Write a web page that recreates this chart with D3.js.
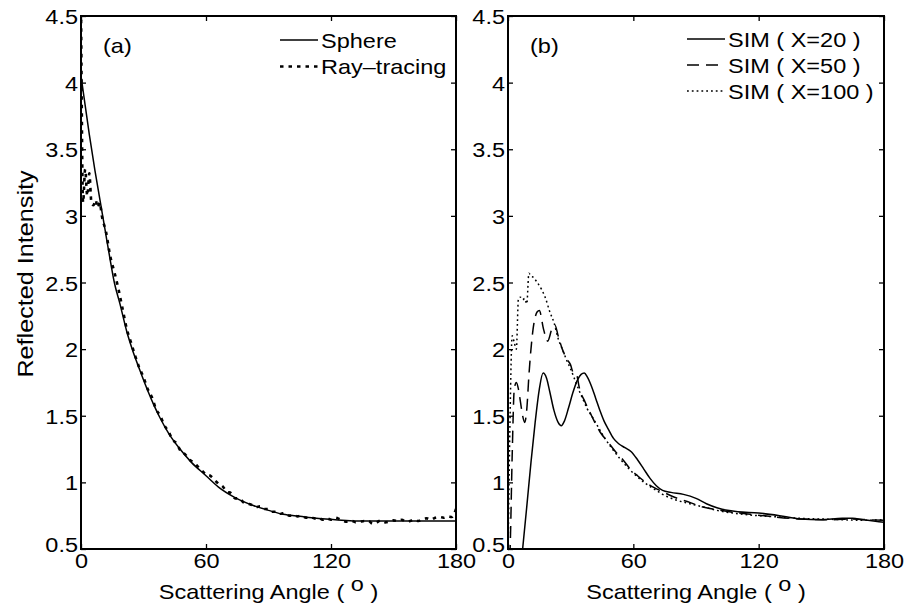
<!DOCTYPE html>
<html><head><meta charset="utf-8">
<script src="https://cdn.jsdelivr.net/npm/d3@7"></script>
<style>
body{margin:0;background:#fff;}
text{font-family:"Liberation Sans",Arial,Helvetica,sans-serif;fill:#000;}
</style></head>
<body><svg id="c" width="907" height="612"></svg>
<script>
// ---------- data ----------
const xTicks = [0, 60, 120, 180];
const yTicks = [0.5, 1, 1.5, 2, 2.5, 3, 3.5, 4, 4.5];
const yTickLabels = ["0.5","1","1.5","2","2.5","3","3.5","4","4.5"];

// panel (a)
const sphereAngle = [0,2,4,6.7,9.1,11.5,13.9,16,18.7,22,25,28.3,32,35,37.9,42,47.5,53,60,66,73.5,83,90,97,105,113,122,132,150,180];
const sphereValue = [4.05,3.83,3.61,3.34,3.12,2.9,2.68,2.5,2.34,2.13,1.98,1.84,1.69,1.58,1.485,1.37,1.25,1.15,1.05,0.965,0.89,0.825,0.79,0.76,0.745,0.73,0.72,0.71,0.71,0.71];

const rayAngle = [0,1,2,3,4,5,6,7,8,9,10,12,14,16,18,20,22,24,26,28,30,32,34,36,38,40,42,44,46,48,50,52,54,56,58,60,62,64,66,68,70,72,74,76,78,80,82,84,86,88,90,92,94,96,98,100,102,104,106,108,110,112,114,116,118,120,122,124,126,128,130,132,134,136,138,140,142,144,146,148,150,152,154,156,158,160,162,164,166,168,170,172,174,176,178,180];
const rayValue = [4.6,3.1,3.35,3.15,3.32,3.1,3.08,3.12,3.06,3.1,3.0,2.88,2.7,2.58,2.45,2.3,2.15,2.05,1.95,1.86,1.79,1.7,1.64,1.55,1.5,1.43,1.38,1.32,1.29,1.23,1.21,1.17,1.15,1.12,1.09,1.06,1.05,1.02,0.99,0.97,0.93,0.92,0.88,0.88,0.85,0.84,0.83,0.815,0.82,0.8,0.8,0.78,0.78,0.765,0.77,0.75,0.755,0.745,0.75,0.735,0.74,0.73,0.735,0.72,0.73,0.72,0.735,0.725,0.71,0.705,0.71,0.7,0.705,0.71,0.71,0.69,0.7,0.715,0.7,0.705,0.715,0.71,0.72,0.705,0.71,0.72,0.71,0.725,0.73,0.72,0.735,0.74,0.735,0.745,0.74,0.8];

// panel (b)
const x20Angle = [5,7,9,11,13,15,16.8,18.5,20,22,24,25.5,27,29,31,33,35,36.5,38,40,42,44,46,48,50.5,53,56,59,62,65,68,71,74,78,84,90,95,100,105,110,120,130,140,150,160,165,170,175,180];
const x20Value = [0.2,0.5,0.82,1.15,1.45,1.7,1.82,1.78,1.68,1.54,1.45,1.425,1.46,1.56,1.67,1.76,1.81,1.82,1.79,1.72,1.63,1.54,1.46,1.4,1.33,1.29,1.26,1.23,1.17,1.1,1.03,0.975,0.94,0.925,0.91,0.88,0.84,0.81,0.79,0.78,0.77,0.75,0.725,0.72,0.73,0.73,0.72,0.71,0.70];

const x50Angle = [0,1,2,3,4,5,6,7,8,9,10,12,14,15,17,19,21,22.5,24,26,28,30,31,33,34,37,40,44,48,52,55,58,62,66,70,74,78,83,87,92,100,108,116,125,140,155,165,172,180];
const x50Value = [0.3,0.5,1.2,1.7,1.75,1.7,1.6,1.5,1.45,1.55,1.8,2.15,2.28,2.29,2.15,2.06,2.15,2.18,2.1,2.0,1.93,1.88,1.83,1.8,1.72,1.6,1.5,1.38,1.3,1.22,1.17,1.11,1.05,1.0,0.96,0.93,0.9,0.87,0.85,0.82,0.795,0.775,0.76,0.745,0.725,0.72,0.725,0.72,0.715];

const x100Angle = [0,1,2,3,4,5,6,7,8,9,10,11,12,14,16,18,20,22,24,26,28,30,32,34,36,38,40,43,46,50,54,58,62,66,70,74,80,87,95,100,110,120,130,140,150,160,170,180];
const x100Value = [0.4,1.5,2.1,2.05,2.0,2.38,2.39,2.37,2.38,2.34,2.57,2.55,2.54,2.5,2.45,2.38,2.28,2.2,2.08,2.0,1.92,1.85,1.77,1.69,1.62,1.55,1.5,1.42,1.34,1.25,1.17,1.1,1.04,0.99,0.95,0.91,0.87,0.84,0.81,0.79,0.765,0.75,0.74,0.73,0.725,0.72,0.715,0.72];

// ---------- layout ----------
const svg = d3.select("#c");
svg.append("rect").attr("width",907).attr("height",612).attr("fill","#fff");
const SX = 1.12, FS = 21;
const topY = 16, bottomY = 549;
const panels = [
  {left:81, right:456, tag:"(a)"},
  {left:508, right:884, tag:"(b)"}
];
const y = d3.scaleLinear().domain([0.5,4.5]).range([bottomY, topY]);
const DOT_A = "3.5,5", DASH_B = "12,7", DOT_B = "1.8,3";

panels.forEach((p, i) => {
  const x = d3.scaleLinear().domain([0,180]).range([p.left, p.right]);
  p.x = x;
  const g = svg.append("g");
  svg.append("clipPath").attr("id","clip"+i).append("rect")
    .attr("x",p.left).attr("y",topY).attr("width",p.right-p.left).attr("height",bottomY-topY);

  const ax = g.append("g").attr("transform","translate(0,"+bottomY+")")
    .call(d3.axisBottom(x).tickValues(xTicks).tickSize(-5).tickPadding(4).tickFormat(d3.format("d")));
  const ay = g.append("g").attr("transform","translate("+p.left+",0)")
    .call(d3.axisLeft(y).tickValues(yTicks).tickSize(-5).tickPadding(3).tickFormat((d,k)=>yTickLabels[k]));
  const at = g.append("g").attr("transform","translate(0,"+topY+")")
    .call(d3.axisTop(x).tickValues(xTicks).tickSize(-5).tickFormat(""));
  const ar = g.append("g").attr("transform","translate("+p.right+",0)")
    .call(d3.axisRight(y).tickValues(yTicks).tickSize(-5).tickFormat(""));
  [ax,ay,at,ar].forEach(a => {
    a.select(".domain").remove();
    a.selectAll("line").attr("stroke","#000").attr("stroke-width",1.3);
    a.selectAll("text").attr("font-size",FS).attr("font-family","Liberation Sans, Arial, sans-serif").attr("fill","#000");
  });
  ax.selectAll(".tick text").attr("transform","scale("+SX+",1)");
  ay.selectAll(".tick text").attr("transform","scale("+SX+",1)").attr("dy","0.36em")
    .attr("x", -3/SX);
  ay.selectAll(".tick").filter(d=>d===0.5).select("text").attr("dy","0.1em");

  g.append("rect").attr("x",p.left).attr("y",topY).attr("width",p.right-p.left).attr("height",bottomY-topY)
    .attr("fill","none").attr("stroke","#000").attr("stroke-width",2);

  const xl = g.append("text").attr("transform","translate("+((p.left+p.right)/2)+",599) scale("+SX+",1)")
    .attr("text-anchor","middle").attr("font-size",FS);
  xl.append("tspan").text("Scattering Angle ( ");
  xl.append("tspan").attr("dy",-8).text("o");
  xl.append("tspan").attr("dy",8).text(" )");

  g.append("text").attr("transform","translate("+(p.left+22)+",53) scale("+SX+",1)")
    .attr("font-size",FS).text(p.tag);
});

svg.append("text").attr("transform","translate(33,274) rotate(-90) scale("+SX+",1)")
  .attr("text-anchor","middle").attr("font-size",22.5).text("Reflected Intensity");

// ---------- curves ----------
function draw(panelIdx, ang, val, style){
  const p = panels[panelIdx];
  const line = d3.line().x((d,k)=>p.x(ang[k])).y((d,k)=>y(val[k])).curve(d3.curveMonotoneX);
  const path = svg.append("path").datum(val).attr("clip-path","url(#clip"+panelIdx+")")
    .attr("d", line).attr("fill","none").attr("stroke","#000")
    .attr("stroke-width", style.w).attr("stroke-linejoin","round");
  if (style.dash) path.attr("stroke-dasharray", style.dash);
}
draw(0, sphereAngle, sphereValue, {w:1.5});
draw(0, rayAngle, rayValue, {w:2.6, dash:DOT_A});
draw(1, x20Angle, x20Value, {w:1.5});
draw(1, x50Angle, x50Value, {w:1.5, dash:DASH_B});
draw(1, x100Angle, x100Value, {w:1.5, dash:DOT_B});

// ---------- legends ----------
const legA = [{t:"Sphere", s:{w:1.5}}, {t:"Ray\u2013tracing", s:{w:2.6, dash:DOT_A}}];
const legB = [{t:"SIM ( X=20 )", s:{w:1.5}}, {t:"SIM ( X=50 )", s:{w:1.5, dash:DASH_B}}, {t:"SIM ( X=100 )", s:{w:1.5, dash:DOT_B}}];
function legend(items, x0, x1, y0, dy){
  items.forEach((it,k)=>{
    const yy = y0 + k*dy;
    const l = svg.append("line").attr("x1",x0).attr("x2",x1).attr("y1",yy).attr("y2",yy)
      .attr("stroke","#000").attr("stroke-width",it.s.w);
    if (it.s.dash) l.attr("stroke-dasharray", it.s.dash);
    svg.append("text").attr("transform","translate("+(x1+3)+","+(yy+7.5)+") scale("+SX+",1)")
      .attr("font-size",FS).text(it.t);
  });
}
legend(legA, 280, 318, 40, 26.5);
legend(legB, 687, 725, 39, 26);
</script></body></html>
